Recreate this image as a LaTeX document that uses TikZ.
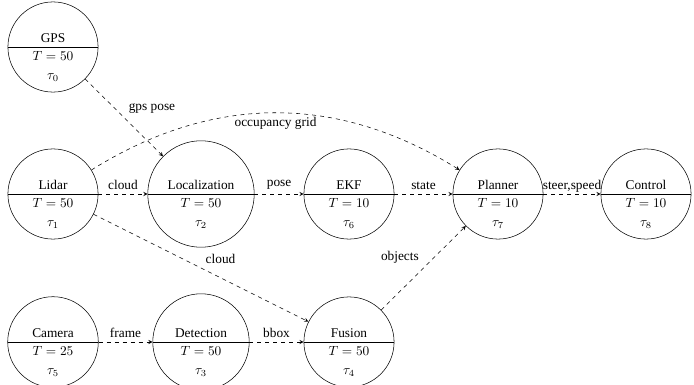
\documentclass[tikz,border=0pt]{standalone}
\usepackage{fontspec}
\setmainfont{Liberation Serif}
\usetikzlibrary{shapes.multipart,arrows}
\begin{document}
\begin{tikzpicture}[x=1pt,y=1pt,
  task/.style={circle split, draw, align=center, minimum size=64pt, inner sep=3pt, font=\fontsize{10}{12}\selectfont},
  flow/.style={dashed, -stealth},
  lbl/.style={font=\fontsize{10}{12}\selectfont}]
\useasboundingbox (0,0) rectangle (520.5,-288.75);
% task nodes
\node[task] (gps)   at (39.75,-35.25)  {GPS \nodepart{lower} $T=50$\\[2pt] $\tau_0$};
\node[task] (lidar) at (39.75,-145.5)  {Lidar \nodepart{lower} $T=50$\\[2pt] $\tau_1$};
\node[task] (loc)   at (150.75,-145.5) {Localization \nodepart{lower} $T=50$\\[2pt] $\tau_2$};
\node[task] (ekf)   at (261.75,-145.5) {EKF \nodepart{lower} $T=10$\\[2pt] $\tau_6$};
\node[task] (plan)  at (373.5,-145.5)  {Planner \nodepart{lower} $T=10$\\[2pt] $\tau_7$};
\node[task] (ctrl)  at (484.5,-145.5)  {Control \nodepart{lower} $T=10$\\[2pt] $\tau_8$};
\node[task] (cam)   at (39.75,-256.5)  {Camera \nodepart{lower} $T=25$\\[2pt] $\tau_5$};
\node[task] (det)   at (150.75,-256.5) {Detection \nodepart{lower} $T=50$\\[2pt] $\tau_3$};
\node[task] (fus)   at (261.75,-256.5) {Fusion \nodepart{lower} $T=50$\\[2pt] $\tau_4$};
% data flows
\draw[flow] (gps) -- node[lbl, auto] {gps pose} (loc);
\draw[flow] (lidar) -- node[lbl, auto] {cloud} (loc);
\draw[flow] (loc) -- node[lbl, auto] {pose} (ekf);
\draw[flow] (ekf) -- node[lbl, auto] {state} (plan);
\draw[flow] (plan) -- node[lbl, auto, inner sep=1pt] {steer,speed} (ctrl);
\draw[flow] (lidar) to[bend left=32] node[lbl, auto, swap] {occupancy grid} (plan);
\draw[flow] (lidar) -- node[lbl, auto] {cloud} (fus);
\draw[flow] (cam) -- node[lbl, auto] {frame} (det);
\draw[flow] (det) -- node[lbl, auto] {bbox} (fus);
\draw[flow] (fus) -- node[lbl, auto] {objects} (plan);
\end{tikzpicture}
\end{document}
